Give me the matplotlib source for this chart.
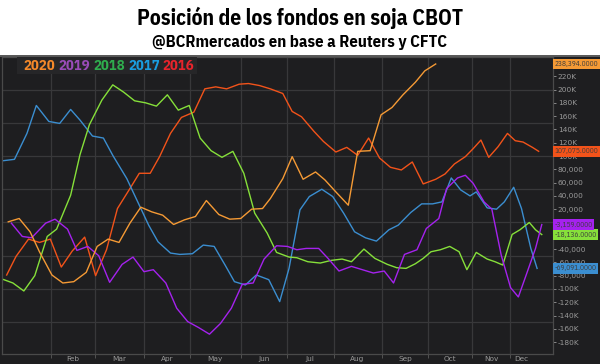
import matplotlib
matplotlib.use("Agg")
import matplotlib.pyplot as plt
from matplotlib.patches import Rectangle
import numpy as np

# posicion neta de fondos en soja CBOT, miles de contratos
# x = dia del año
d2016 = [3, 9, 17, 24, 31, 38, 45, 53, 60, 67, 74, 82, 88, 95, 101, 108, 115, 123, 130, 137,
         144, 152, 158, 165, 172, 180, 186, 192, 200, 206, 214, 221, 228, 235, 242, 249, 256,
         263, 270, 278, 284, 290, 297, 302, 307, 312, 318, 324, 329, 334, 340, 344]
v2016 = [-79, -51, -25, -30, -25, -67, -43, -22, -80, -41, 21, 51, 74, 74, 99, 134, 158, 166, 201, 204,
         201, 208, 209, 206, 201, 194, 167, 159, 137, 122, 106, 113, 101, 127, 97, 83, 79,
         91, 58, 65, 73, 88, 99, 111, 124, 98, 114, 134, 123, 121, 113, 107.075]

d2017 = [1, 8, 16, 22, 30, 37, 44, 50, 58, 65, 71, 80, 85, 94, 100, 108, 114, 122, 129, 136,
         143, 149, 156, 163, 171, 178, 184, 191, 197, 205, 212, 219, 226, 233, 240, 248, 254,
         262, 269, 276, 282, 288, 294, 300, 304, 311, 317, 322, 328, 333, 339, 343]
v2017 = [93, 95, 134, 176, 152, 149, 170, 154, 130, 127, 101, 66, 41, -4, -29, -46, -48, -47, -34, -36,
         -64, -89, -94, -79, -86, -119, -69, 19, 39, 50, 39, 14, -14, -23, -28, -11, -4,
         15, 28, 28, 31, 67, 49, 40, 46, 22, 20, 31, 53, 21, -39, -69.091]

d2018 = [0, 7, 14, 21, 29, 35, 44, 50, 56, 64, 71, 78, 85, 92, 99, 106, 113, 120, 127, 134,
         141, 148, 155, 162, 170, 176, 184, 189, 196, 204, 211, 218, 224, 232, 239, 247, 253,
         259, 265, 270, 275, 281, 287, 293, 298, 304, 311, 316, 321, 327, 332, 338, 342, 346]
v2018 = [-85, -91, -103, -80, -21, -10, 41, 102, 147, 184, 207, 196, 183, 180, 175, 192, 169, 176, 127, 108,
         98, 107, 74, 14, -16, -45, -52, -53, -59, -61, -57, -55, -59, -40, -54, -63, -68,
         -69, -62, -54, -44, -41, -36, -44, -71, -45, -55, -59, -64, -18, -11, 0, -11, -18.136]

d2019 = [6, 13, 19, 28, 34, 42, 48, 55, 62, 69, 77, 84, 91, 97, 105, 112, 119, 126, 133, 140,
         147, 154, 161, 168, 176, 183, 189, 195, 203, 209, 216, 224, 231, 238, 245, 251, 258,
         266, 272, 280, 285, 292, 297, 302, 309, 314, 320, 326, 331, 336, 342, 346]
v2019 = [-1, -21, -23, -1, 5, -10, -42, -36, -50, -90, -63, -52, -74, -71, -91, -129, -149, -158, -168, -152,
         -129, -93, -91, -55, -35, -36, -41, -39, -39, -54, -73, -66, -71, -76, -73, -91, -48,
         -41, -9, 6, 51, 67, 71, 59, 31, 20, -49, -98, -112, -79, -39, -3.159]

d2020 = [4, 11, 18, 24, 32, 39, 46, 54, 61, 68, 75, 82, 89, 96, 103, 110, 117, 124, 131, 139,
         146, 153, 160, 167, 172, 180, 186, 193, 201, 207, 214, 222, 228, 236, 243, 250, 257,
         265, 271, 278]
v2020 = [1, 6, -14, -44, -79, -91, -89, -75, -36, -25, -30, -1, 23, 16, 11, -3, 4, 9, 33, 12,
         5, 6, 20, 21, 36, 66, 99, 65, 76, 64, 46, 26, 107, 108, 162, 173, 192,
         211, 228, 238.394]

months = ["Feb", "Mar", "Apr", "May", "Jun", "Jul", "Aug", "Sep", "Oct", "Nov", "Dec"]
month_starts = [31.4, 59.6, 91, 120.5, 153.2, 182.7, 212.8, 243.6, 273, 301.3, 325.6]
month_mid = [45.3, 75, 105.8, 136.5, 168, 197.4, 227.6, 258.3, 287, 313.5, 332.7]

series = [
    (d2016, v2016, "#f2531a"),
    (d2017, v2017, "#3b8ed0"),
    (d2018, v2018, "#86e03a"),
    (d2019, v2019, "#a522ee"),
    (d2020, v2020, "#f59a35"),
]
legend = [("2020", "#f5892a"), ("2019", "#9a4cb8"), ("2018", "#2fae4e"),
          ("2017", "#1a9de0"), ("2016", "#e8242c")]

W, H = 600, 364
bg = "#1e1e20"
cond = ["IBM Plex Sans Condensed", "DejaVu Sans"]

fig = plt.figure(figsize=(6, 3.64), dpi=100)
fig.patch.set_facecolor("white")
# panel oscuro
fig.patches.append(Rectangle((0, 0), 1, 1 - 55 / H, transform=fig.transFigure,
                             fc=bg, ec="none", zorder=-2))
fig.patches.append(Rectangle((0, 1 - 57 / H), 1, 2 / H, transform=fig.transFigure,
                             fc="#5a5a5a", ec="none", zorder=-1))

ax = fig.add_axes([2 / W, 1 - 354 / H, 551 / W, 297 / H])
ax.set_zorder(1)
ax.set_facecolor(bg)

for g in np.arange(-150, 201, 50):
    ax.axhline(g, color="#38383a", lw=0.9, zorder=0)
for m in month_starts:
    ax.axvline(m, color="#38383a", lw=0.9, zorder=0)

for d, v, c in series:
    ax.plot(d, v, color=c, lw=1.0, zorder=2)
    ax.text(1.003, v[-1], "{:,.4f}".format(v[-1] * 1000), transform=ax.get_yaxis_transform(),
            ha="left", va="center", fontsize=5.3, color="#3c3c3c", zorder=5, clip_on=False,
            family=cond,
            bbox=dict(boxstyle="square,pad=0.2", fc=c, ec="none"))

ax.set_xlim(0, 353.2)
ax.set_ylim(-197.8, 248.9)

# etiquetas tapadas por las cajas de valor final
hidden = [240, 0, -20]

def fmt(v):
    if v in hidden:
        return ""
    if abs(v) >= 100:
        return "%dK" % v
    return "{:,}".format(int(v * 1000))

yt = np.arange(-180, 241, 20)
ax.set_yticks(yt)
ax.set_yticklabels([fmt(t) for t in yt])
ax.yaxis.tick_right()
ax.tick_params(axis="y", labelsize=5.3, colors="#9a9a9a", length=2, pad=1.5, width=0.6)

ax.set_xticks(month_starts)
ax.set_xticklabels([])
ax.set_xticks(month_mid, minor=True)
ax.set_xticklabels(months, minor=True)
ax.tick_params(axis="x", which="major", length=3, color="#5a5a5a", width=0.6)
ax.tick_params(axis="x", which="minor", length=0, labelsize=5.3, colors="#9a9a9a", pad=1.5)

for s in ax.spines.values():
    s.set_color("#4a4a4a")
    s.set_linewidth(0.9)

# leyenda de años
fig.patches.append(Rectangle((17 / W, 1 - 74 / H), 180 / W, 17 / H, transform=fig.transFigure,
                             fc="#262628", ec="none", zorder=3))
lx = [23, 58, 93, 128, 162]
for (t, c), x in zip(legend, lx):
    fig.text(x / W, 1 - 66 / H, t, color=c, fontsize=10.5, weight="bold",
             family=cond, ha="left", va="center", zorder=4)

fig.text(0.5, 1 - 18 / H, "Posición de los fondos en soja CBOT", fontsize=15.5,
         weight="bold", family=cond, ha="center", va="center")
fig.text(0.5, 1 - 42 / H, "@BCRmercados en base a Reuters y CFTC", fontsize=12,
         weight="bold", family=cond, ha="center", va="center")

plt.savefig("out.png", dpi=100, facecolor=fig.get_facecolor())
